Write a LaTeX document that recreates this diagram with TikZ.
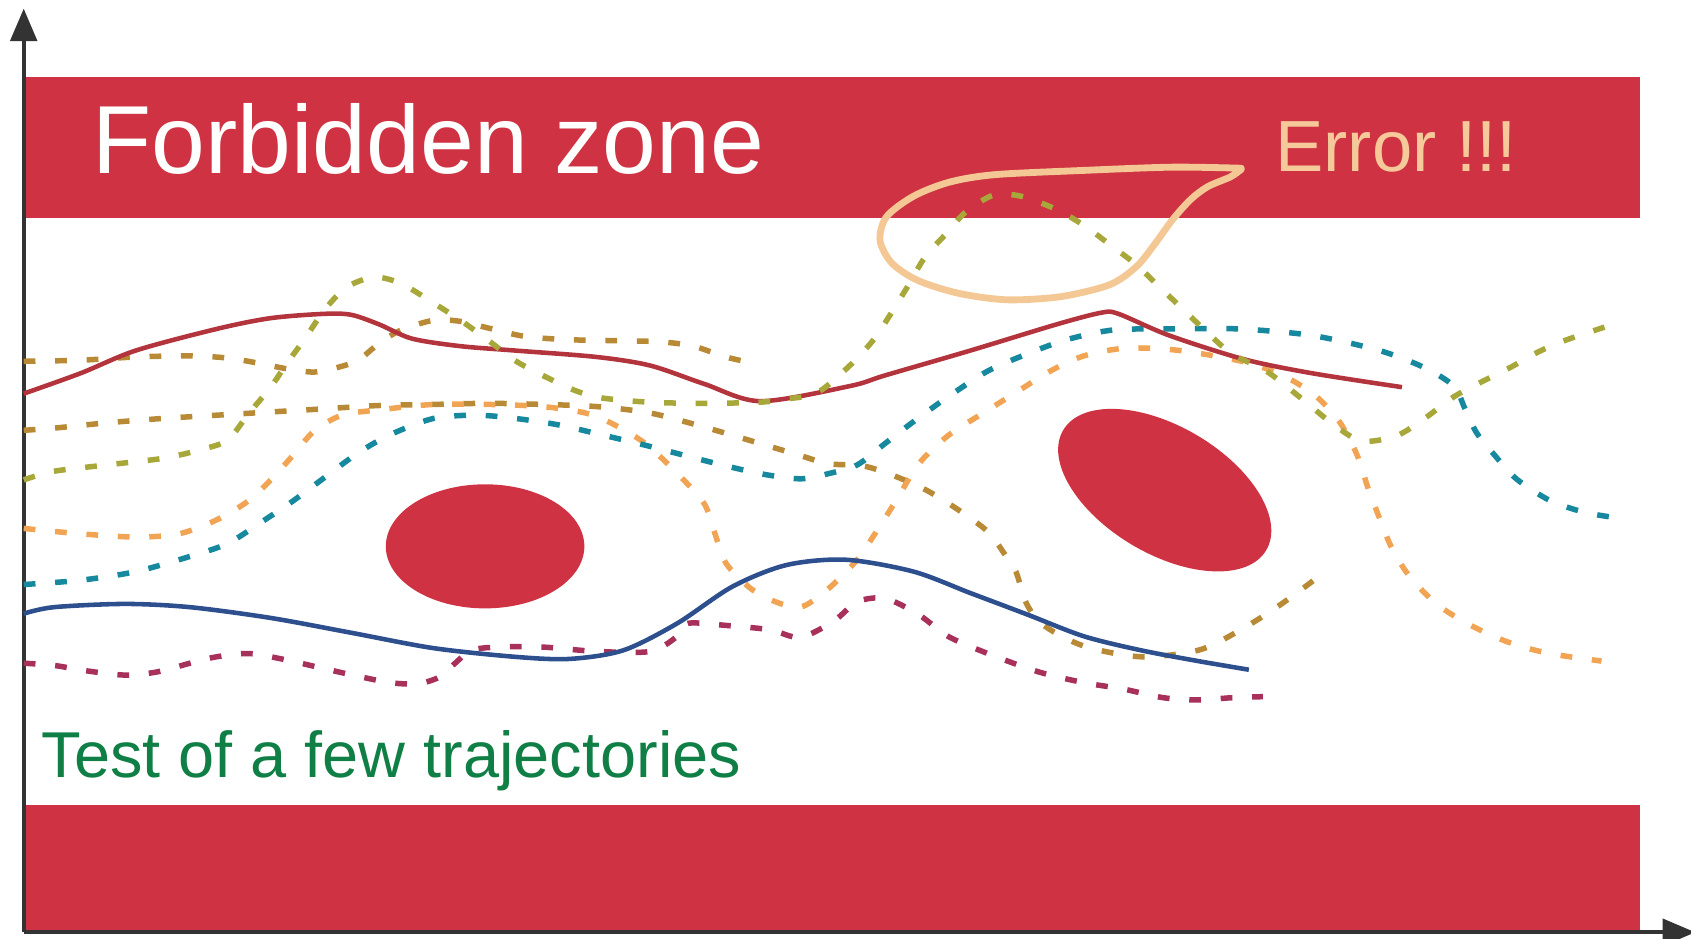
\documentclass[tikz,border=0pt]{standalone}
\usepackage{fontspec}
\setmainfont{Liberation Sans}
\usetikzlibrary{arrows.meta}
\definecolor{bandred}{HTML}{CF3242}
\definecolor{solidred}{HTML}{B3343D}
\definecolor{solidblue}{HTML}{2D4F8E}
\definecolor{olive2}{HTML}{A8A83A}
\definecolor{ochre}{HTML}{B88A36}
\definecolor{orange2}{HTML}{F2A455}
\definecolor{teal2}{HTML}{17899E}
\definecolor{magenta2}{HTML}{A8315B}
\definecolor{loopc}{HTML}{F4C895}
\definecolor{errtxt}{HTML}{F5C99A}
\definecolor{greentxt}{HTML}{0F7F45}
\definecolor{axisgray}{HTML}{333333}
\tikzset{
  band/.style={fill=bandred, draw=none},
  obstacle/.style={fill=bandred, draw=none},
  axisline/.style={draw=axisgray, line width=1.1pt, -{Triangle[length=8.6pt,width=7pt]}},
  solidtraj/.style={line width=1.2pt, line join=round},
  dashtraj/.style={line width=1.45pt, dash pattern=on 3.1pt off 5.2pt},
  lbl/.style={inner sep=0pt, anchor=base west}
}
\begin{document}
\begin{tikzpicture}[x=0.01cm, y=-0.01cm]
\useasboundingbox (0,0) rectangle (1568,870);
% bands
\fill[band] (22,71) rectangle (1521,202);
\fill[band] (22,746.6) rectangle (1521,864.5);
% obstacles
\fill[obstacle] (449.8,506.6) ellipse [x radius=0.92cm, y radius=0.575cm];
\fill[obstacle, rotate around={-30.6:(1080,454.5)}] (1080,454.5) ellipse [x radius=1.093cm, y radius=0.59cm];
% axes
\coordinate (o) at (22,864.5);
\coordinate (ytop) at (22,8);
\coordinate (xend) at (1572,864.5);
\draw[axisline] (o) -- (ytop);
\draw[axisline] (o) -- (xend);
% dashed trajectories
\draw[dashtraj, ochre] plot[smooth] coordinates {(22,335) (75,334) (126,331) (176,330) (211,332) (241,337) (266,342) (291,345) (312,341) (332,334) (352,318) (372,306) (402,297) (427,298) (452,304) (487,312) (528,315) (578,316) (613,317) (643,321) (673,331) (704,338)};
\draw[dashtraj, ochre] plot[smooth] coordinates {(22,399) (50,397) (100,392) (151,388) (201,385) (251,382) (302,379) (352,376) (402,375) (452,374) (503,375) (553,377) (603,383) (653,396) (704,411) (744,423) (768,430) (800,432) (826,440) (858,454) (889,473) (916,493) (931,513) (942,530) (952,560) (968,580) (1005,599) (1058,609) (1111,603) (1147,586) (1184,563) (1221,536)};
\draw[dashtraj, orange2] plot[smooth] coordinates {(22,490) (75,495) (126,498) (166,495) (201,482) (231,464) (251,445) (271,423) (291,400) (317,385) (352,380) (402,375) (452,375) (503,377) (543,383) (568,393) (598,411) (628,439) (653,467) (663,495) (673,522) (694,544) (714,556) (742,563) (768,546) (794,520) (810,497) (831,464) (852,430) (879,404) (910,384) (942,364) (974,344) (1005,330) (1042,323) (1084,324) (1126,330) (1163,338) (1195,351) (1221,368) (1242,391) (1258,421) (1269,454) (1279,480) (1290,507) (1306,533) (1332,560) (1364,580) (1400,596) (1437,606) (1485,613)};
\draw[dashtraj, teal2] plot[smooth] coordinates {(22,542) (75,538) (126,530) (176,516) (211,504) (241,485) (271,465) (302,442) (332,420) (362,403) (402,388) (442,385) (478,388) (518,394) (553,402) (603,414) (653,427) (704,439) (742,444) (769,439) (795,431) (821,411) (847,391) (879,368) (916,344) (953,328) (989,315) (1032,306) (1084,305) (1148,305) (1216,311) (1279,325) (1321,341) (1348,358) (1358,378) (1369,401) (1385,421) (1406,444) (1437,464) (1469,475) (1498,480)};
\draw[dashtraj, magenta2] plot[smooth] coordinates {(22,615) (50,617) (80,622) (116,626) (146,623) (176,615) (201,609) (231,606) (261,611) (292,618) (327,626) (362,633) (387,634) (407,628) (422,615) (437,603) (462,600) (503,600) (553,604) (603,604) (628,590) (638,578) (674,580) (714,584) (742,591) (773,576) (795,558) (821,555) (852,570) (879,590) (916,606) (963,623) (1005,633) (1042,639) (1079,647) (1111,649) (1142,647) (1171,646)};
% solid trajectories
\draw[solidtraj, solidred] plot[smooth] coordinates {(22,365) (75,346) (126,325) (201,305) (251,295) (301,291) (326,292) (352,301) (382,314) (427,321) (477,325) (553,331) (603,339) (653,356) (705,372) (788,358) (821,348) (900,325) (979,301) (1021,290) (1037,291) (1084,311) (1153,333) (1216,346) (1300,359)};
\draw[solidtraj, solidblue] plot[smooth] coordinates {(22,569) (50,563) (116,560) (176,563) (251,573) (327,587) (402,601) (477,609) (528,611) (578,603) (628,578) (679,544) (729,524) (784,519) (847,530) (900,550) (953,570) (1005,590) (1058,603) (1111,613) (1158,621)};
\draw[dashtraj, olive2] plot[smooth] coordinates {(22,445) (50,437) (100,431) (151,425) (186,417) (211,408) (231,383) (251,359) (266,337) (282,315) (302,286) (322,266) (347,257) (372,263) (402,281) (427,297) (452,315) (477,334) (503,348) (533,362) (558,369) (603,373) (653,374) (704,373) (729,370) (758,364) (789,338) (810,315) (826,291) (842,265) (858,238) (879,215) (895,197) (921,181) (947,182) (979,194) (1005,209) (1032,229) (1053,245) (1074,265) (1095,285) (1116,305) (1142,328) (1174,344) (1205,368) (1237,394) (1263,409) (1295,404) (1321,388) (1348,368) (1374,354) (1400,341) (1427,326) (1453,315) (1495,301)};
% error loop
\draw[loopc, line width=1.8pt, line join=round, line cap=round] plot[smooth] coordinates {(1151,156) (1087,155) (1005,158) (922,162) (880,169) (847,182) (822,201) (816,223) (827,244) (851,260) (889,272) (934,278) (984,275) (1029,264) (1054,247) (1071,226) (1087,204) (1104,185) (1120,173) (1141,164) (1151,157)};
% texts
\node[lbl, text=white, font=\fontsize{25.5pt}{30pt}\selectfont] (forbidden) at (85,160.7) {Forbidden zone};
\node[lbl, text=errtxt, font=\fontsize{19.1pt}{22pt}\selectfont] (error) at (1182,159.2) {Error !!!};
\node[lbl, text=greentxt, font=\fontsize{17.1pt}{20pt}\selectfont] (test) at (38,720.8) {Test of a few trajectories};
\end{tikzpicture}
\end{document}
